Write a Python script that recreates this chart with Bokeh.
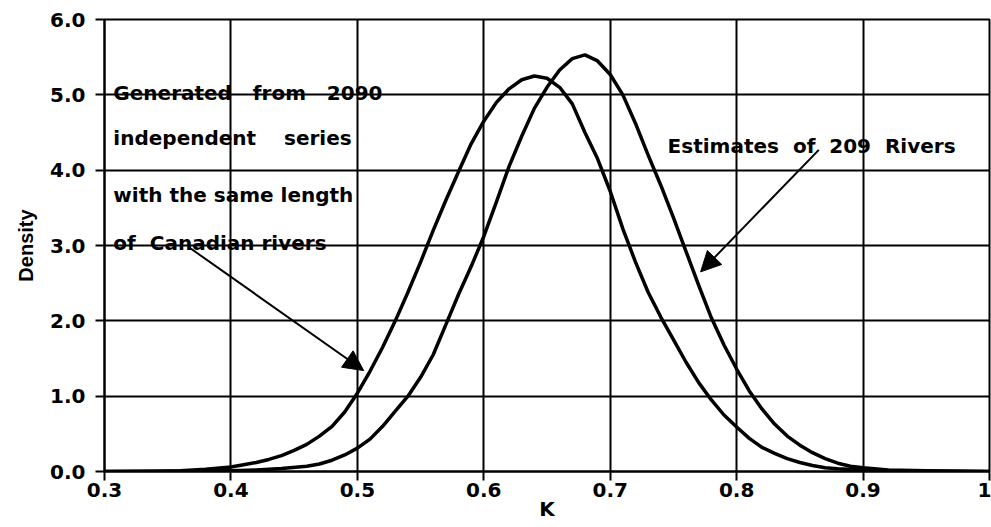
from bokeh.plotting import figure
from bokeh.models import Range1d, FixedTicker, NumeralTickFormatter, Arrow, NormalHead, Label
from bokeh.embed import file_html
from bokeh.resources import INLINE

# Density of K for series generated from 2090 independent simulations
k_generated = [0.30, 0.34, 0.36, 0.38, 0.40, 0.41, 0.42, 0.43, 0.44, 0.45, 0.46,
               0.47, 0.48, 0.49, 0.50, 0.51, 0.52, 0.53, 0.54, 0.55, 0.56, 0.57,
               0.58, 0.59, 0.60, 0.61, 0.62, 0.63, 0.64, 0.65, 0.66, 0.67, 0.68,
               0.69, 0.70, 0.71, 0.72, 0.73, 0.74, 0.75, 0.76, 0.77, 0.78, 0.79,
               0.80, 0.81, 0.82, 0.83, 0.84, 0.85, 0.86, 0.87, 0.88, 0.90, 0.93,
               1.00]
density_generated = [0.0, 0.003, 0.01, 0.03, 0.06, 0.09, 0.12, 0.16, 0.21, 0.28, 0.36,
                     0.47, 0.60, 0.79, 1.04, 1.33, 1.65, 2.0, 2.38, 2.78, 3.2, 3.6,
                     3.98, 4.35, 4.65, 4.9, 5.08, 5.2, 5.25, 5.22, 5.1, 4.88, 4.5,
                     4.15, 3.72, 3.22, 2.78, 2.38, 2.05, 1.75, 1.45, 1.18, 0.95, 0.75,
                     0.59, 0.44, 0.32, 0.24, 0.17, 0.12, 0.08, 0.05, 0.035, 0.02, 0.005,
                     0.0]

# Density of K estimated for 209 Canadian rivers
k_rivers = [0.30, 0.38, 0.40, 0.42, 0.44, 0.46, 0.47, 0.48, 0.49, 0.50, 0.51,
            0.52, 0.53, 0.54, 0.55, 0.56, 0.57, 0.58, 0.59, 0.60, 0.61, 0.62,
            0.63, 0.64, 0.65, 0.66, 0.67, 0.68, 0.69, 0.70, 0.71, 0.72, 0.73,
            0.74, 0.75, 0.76, 0.77, 0.78, 0.79, 0.80, 0.81, 0.82, 0.83, 0.84,
            0.85, 0.86, 0.87, 0.88, 0.89, 0.90, 0.92, 0.95, 1.00]
density_rivers = [0.0, 0.005, 0.01, 0.02, 0.04, 0.07, 0.1, 0.15, 0.22, 0.31, 0.43,
                  0.6, 0.8, 1.0, 1.25, 1.55, 1.95, 2.35, 2.72, 3.12, 3.58, 4.05,
                  4.45, 4.82, 5.1, 5.33, 5.48, 5.53, 5.45, 5.27, 5.0, 4.62, 4.2,
                  3.8, 3.37, 2.92, 2.47, 2.04, 1.68, 1.36, 1.07, 0.83, 0.63, 0.47,
                  0.35, 0.25, 0.17, 0.11, 0.07, 0.05, 0.02, 0.01, 0.0]

x_ticks = [0.3, 0.4, 0.5, 0.6, 0.7, 0.8, 0.9, 1.0]
y_ticks = [0.0, 1.0, 2.0, 3.0, 4.0, 5.0, 6.0]

SP2 = "\u00a0 "
SP3 = "\u00a0\u00a0 "
SP4 = "\u00a0\u00a0\u00a0 "
generated_note = ["Generated" + SP3 + "from" + SP3 + "2090",
                  "independent" + SP4 + "series",
                  "with the same length",
                  "of" + SP2 + "Canadian rivers"]
rivers_note = "Estimates" + SP2 + "of" + SP2 + "209" + SP2 + "Rivers"

FONT = "DejaVu Sans"

p = figure(width=991, height=527, output_backend="svg", toolbar_location=None,
           x_range=Range1d(0.3, 1.0), y_range=Range1d(0, 6),
           min_border_left=104, min_border_right=2, min_border_top=19,
           min_border_bottom=56, background_fill_color="white",
           border_fill_color="white")

p.outline_line_color = "black"
p.outline_line_width = 2

for ax in (p.xaxis[0], p.yaxis[0]):
    ax.axis_line_color = "black"
    ax.axis_line_width = 2
    ax.major_tick_line_color = "black"
    ax.major_tick_line_width = 2
    ax.major_tick_in = 0
    ax.major_tick_out = 9
    ax.minor_tick_line_color = None
    ax.major_label_text_font = FONT
    ax.major_label_text_font_style = "bold"
    ax.major_label_text_font_size = "20px"
    ax.major_label_text_color = "black"
    ax.axis_label_text_color = "black"
    ax.axis_label_text_font_style = "bold"

p.xaxis.ticker = FixedTicker(ticks=x_ticks)
p.yaxis.ticker = FixedTicker(ticks=y_ticks)
p.xaxis.formatter = NumeralTickFormatter(format="0.0")
p.xaxis.major_label_overrides = {1: "1"}
p.yaxis.formatter = NumeralTickFormatter(format="0.0")
p.xaxis.major_label_standoff = 2
p.yaxis.major_label_standoff = 10

p.xaxis.axis_label = "K"
p.xaxis.axis_label_text_font = FONT
p.xaxis.axis_label_text_font_size = "20px"
p.xaxis.axis_label_standoff = -3

p.yaxis.axis_label = "Density"
p.yaxis.axis_label_text_font = "Liberation Sans"
p.yaxis.axis_label_text_font_size = "20px"
p.yaxis.axis_label_standoff = 10

for g, ticks in ((p.xgrid[0], x_ticks), (p.ygrid[0], y_ticks)):
    g.ticker = FixedTicker(ticks=ticks)
    g.grid_line_color = "black"
    g.grid_line_width = 2
    g.grid_line_alpha = 1.0

p.line(k_generated, density_generated, line_color="black", line_width=3.5,
       line_join="round")
p.line(k_rivers, density_rivers, line_color="black", line_width=3.5,
       line_join="round")

# Notes and their arrows
note_y = [5.03, 4.43, 3.67, 3.03]
for txt, yy in zip(generated_note, note_y):
    p.add_layout(Label(x=0.307, y=yy, text=txt, text_font=FONT,
                       text_font_style="bold", text_font_size="20px",
                       text_color="black", text_baseline="alphabetic"))
p.add_layout(Label(x=0.7454, y=4.32, text=rivers_note, text_font=FONT,
                   text_font_style="bold", text_font_size="20px",
                   text_color="black", text_baseline="alphabetic"))

p.add_layout(Arrow(end=NormalHead(size=20, fill_color="black", line_color="black"),
                   x_start=0.3665, y_start=2.98, x_end=0.505, y_end=1.34,
                   line_color="black", line_width=2))
p.add_layout(Arrow(end=NormalHead(size=20, fill_color="black", line_color="black"),
                   x_start=0.865, y_start=4.27, x_end=0.7715, y_end=2.65,
                   line_color="black", line_width=2))

open("out.html", "w").write(file_html(p, INLINE))
